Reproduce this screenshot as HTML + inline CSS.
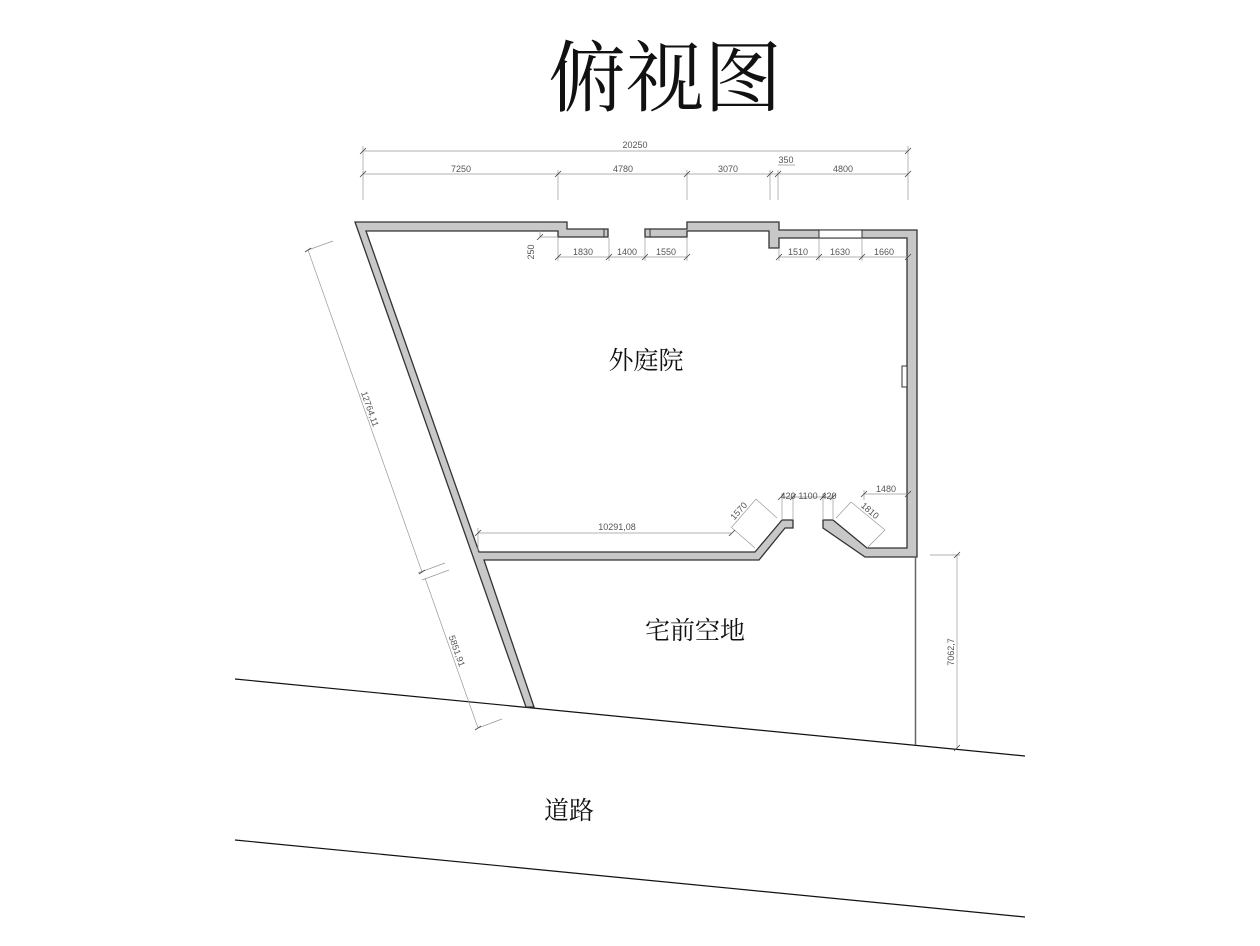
<!DOCTYPE html>
<html><head><meta charset="utf-8"><style>
html,body{margin:0;padding:0;background:#fff;}
svg{display:block;}
text{font-family:"Liberation Sans",sans-serif;fill:#555;font-size:9px;}
text.cn{font-family:"Liberation Serif","Noto Serif CJK SC","Noto Sans CJK SC",serif;fill:#111;}
</style></head><body>
<svg width="1260" height="946" viewBox="0 0 1260 946" xmlns="http://www.w3.org/2000/svg">
<text class="cn" x="665" y="105" text-anchor="middle" style="font-size:78px">俯视图</text>

<line x1="235" y1="679" x2="1025" y2="756" stroke="#111" stroke-width="1.2"/>
<line x1="235" y1="840" x2="1025" y2="917" stroke="#111" stroke-width="1.2"/>

<g fill="#c8c8c8" stroke="#333" stroke-width="1.3" stroke-linejoin="miter">
<polygon points="355,222 567,222 567,229 608,229 608,237 558,237 558,231 366,231 479,552 755,552 782,520 793,520 793,528 785,528 759,560 484,560 534,707 526,707"/>
<polygon points="645,229 687,229 687,222 779,222 779,230 917,230 917,557 865,557 823,528 823,520 833,520 867,548 907,548 907,238 779,238 779,248 769,248 769,231 687,231 687,237 645,237"/>
</g>
<rect x="819" y="230" width="43" height="8" fill="#fff" stroke="#333" stroke-width="1"/>
<line x1="604" y1="229" x2="604" y2="237" stroke="#333"/>
<line x1="650" y1="229" x2="650" y2="237" stroke="#333"/>
<rect x="902" y="366" width="5" height="21" fill="#fff" stroke="#333" stroke-width="1"/>
<line x1="915.5" y1="557" x2="915.5" y2="745" stroke="#666" stroke-width="1.5"/>

<g stroke="#999" stroke-width="0.7" fill="none">
<line x1="363" y1="151" x2="908" y2="151"/>
<line x1="363" y1="174" x2="908" y2="174"/>
<line x1="363" y1="146" x2="363" y2="200"/>
<line x1="908" y1="146" x2="908" y2="200"/>
<line x1="558" y1="170" x2="558" y2="200"/>
<line x1="687" y1="170" x2="687" y2="200"/>
<line x1="770" y1="170" x2="770" y2="200"/>
<line x1="778" y1="170" x2="778" y2="200"/>
<line x1="778" y1="165" x2="795" y2="165"/>
<line x1="558" y1="257" x2="687" y2="257"/>
<line x1="558" y1="238" x2="558" y2="261"/>
<line x1="609" y1="238" x2="609" y2="261"/>
<line x1="645" y1="238" x2="645" y2="261"/>
<line x1="687" y1="238" x2="687" y2="261"/>
<line x1="779" y1="257" x2="908" y2="257"/>
<line x1="779" y1="248" x2="779" y2="261"/>
<line x1="819" y1="238" x2="819" y2="261"/>
<line x1="862" y1="238" x2="862" y2="261"/>
<line x1="540" y1="231" x2="540" y2="237"/>
<line x1="540" y1="237" x2="558" y2="237"/>
<line x1="308" y1="250" x2="422" y2="572"/>
<line x1="308" y1="250" x2="333" y2="241"/>
<line x1="425" y1="578" x2="478" y2="728"/>
<line x1="418" y1="573" x2="445" y2="563"/>
<line x1="422" y1="580" x2="449" y2="570"/>
<line x1="478" y1="728" x2="502" y2="719"/>
<line x1="478" y1="533" x2="732" y2="533"/>
<line x1="478" y1="528" x2="478" y2="552"/>
<line x1="732" y1="528" x2="755" y2="548"/>
<line x1="731" y1="528" x2="756" y2="499"/>
<line x1="756" y1="499" x2="777" y2="518"/>
<line x1="781" y1="497" x2="833" y2="497"/>
<line x1="782" y1="493" x2="782" y2="520"/>
<line x1="793" y1="493" x2="793" y2="520"/>
<line x1="823" y1="493" x2="823" y2="520"/>
<line x1="833" y1="493" x2="833" y2="520"/>
<line x1="864" y1="494" x2="908" y2="494"/>
<line x1="864" y1="490" x2="864" y2="500"/>
<line x1="836" y1="518" x2="851" y2="502"/>
<line x1="851" y1="502" x2="885" y2="530"/>
<line x1="885" y1="530" x2="867" y2="548"/>
<line x1="957" y1="555" x2="957" y2="748"/>
<line x1="930" y1="555" x2="960" y2="555"/>
</g>
<g stroke="#444" stroke-width="0.8">
<path d="M360,154l6,-6 M905,154l6,-6 M360,177l6,-6 M555,177l6,-6 M684,177l6,-6 M767,177l6,-6 M775,177l6,-6 M905,177l6,-6 M555,260l6,-6 M606,260l6,-6 M642,260l6,-6 M684,260l6,-6 M776,260l6,-6 M816,260l6,-6 M859,260l6,-6 M905,260l6,-6 M537,240l6,-6 M305,252l6,-4 M419,574l6,-4 M475,730l6,-4 M954,558l6,-6 M954,751l6,-6 M475,536l6,-6 M729,536l6,-6 M778,500l6,-6 M790,500l6,-6 M820,500l6,-6 M830,500l6,-6 M861,497l6,-6 M905,497l6,-6"/>
</g>

<text x="635" y="148" text-anchor="middle">20250</text>
<text x="461" y="172" text-anchor="middle">7250</text>
<text x="623" y="172" text-anchor="middle">4780</text>
<text x="728" y="172" text-anchor="middle">3070</text>
<text x="786" y="163" text-anchor="middle">350</text>
<text x="843" y="172" text-anchor="middle">4800</text>
<text x="583" y="255" text-anchor="middle">1830</text>
<text x="627" y="255" text-anchor="middle">1400</text>
<text x="666" y="255" text-anchor="middle">1550</text>
<text x="798" y="255" text-anchor="middle">1510</text>
<text x="840" y="255" text-anchor="middle">1630</text>
<text x="884" y="255" text-anchor="middle">1660</text>
<text x="0" y="0" text-anchor="middle" transform="translate(534,252) rotate(-90)">250</text>
<text x="0" y="0" text-anchor="middle" transform="translate(367,410) rotate(70.5)">12764,11</text>
<text x="0" y="0" text-anchor="middle" transform="translate(454,652) rotate(70.5)">5851,91</text>
<text x="0" y="0" text-anchor="middle" transform="translate(954,652) rotate(-90)">7062,7</text>
<text x="617" y="530" text-anchor="middle">10291,08</text>
<text x="0" y="0" text-anchor="middle" transform="translate(741,513) rotate(-48)">1570</text>
<text x="788" y="499" text-anchor="middle">420</text>
<text x="808" y="499" text-anchor="middle">1100</text>
<text x="829" y="499" text-anchor="middle">420</text>
<text x="886" y="492" text-anchor="middle">1480</text>
<text x="0" y="0" text-anchor="middle" transform="translate(868,513) rotate(40)">1810</text>

<text class="cn" x="646" y="369" text-anchor="middle" style="font-size:25px">外庭院</text>
<text class="cn" x="695" y="639" text-anchor="middle" style="font-size:25px">宅前空地</text>
<text class="cn" x="569" y="819" text-anchor="middle" style="font-size:25px">道路</text>
</svg>
</body></html>
